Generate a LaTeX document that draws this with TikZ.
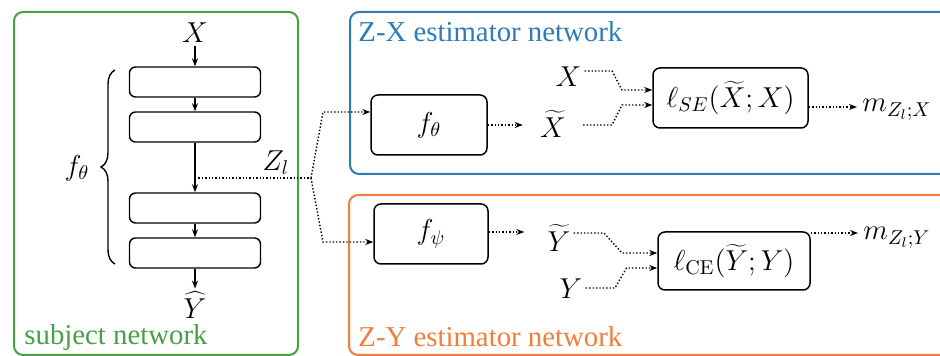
\documentclass[tikz,border=0pt]{standalone}
\usepackage{fontspec}
\newfontfamily\labfont{Liberation Serif}
\usetikzlibrary{arrows.meta,decorations.pathreplacing}
\definecolor{cgreen}{HTML}{46A046}
\definecolor{cblue}{HTML}{2E7BB6}
\definecolor{corange}{HTML}{F27D3A}
\begin{document}
\begin{tikzpicture}[x=0.5pt,y=-0.5pt,
  blk/.style={draw,rounded corners=3pt,line width=0.7pt,minimum width=65.5pt,minimum height=15pt,inner sep=0pt},
  fbox/.style={draw,rounded corners=3.5pt,line width=0.75pt,inner sep=0pt,font=\Large},
  lab/.style={font=\Large,inner sep=1.5pt},
  grp/.style={draw,rounded corners=4.5pt,line width=1pt},
  ttl/.style={font=\labfont\fontsize{14.4}{17}\selectfont,anchor=base west,inner sep=0pt},
  sarr/.style={-{Stealth[length=4pt,width=3pt]},line width=0.6pt},
  darr/.style={-{Stealth[length=4pt,width=3pt]},line width=0.7pt,densely dotted},
  dln/.style={line width=0.7pt,densely dotted}]
\useasboundingbox (0,0) rectangle (940,356);
% group frames
\draw[grp,cgreen] (14,12) rectangle (298,355);
\draw[grp,cblue] (350,12) rectangle (960,174);
\draw[grp,corange] (349,195) rectangle (960,355);
\node[ttl,text=cgreen] (tsub) at (24,345) {subject network};
\node[ttl,text=cblue] (tzx) at (358,42) {Z-X estimator network};
\node[ttl,text=corange] (tzy) at (358,347) {Z-Y estimator network};
% subject network
\node[blk] (b1) at (195,82) {};
\node[blk] (b2) at (195,127) {};
\node[blk] (b3) at (195,208) {};
\node[blk] (b4) at (195,253) {};
\node[lab] (xin) at (195,33) {$X$};
\node[lab] (yhat) at (195,305) {$\widehat{Y}$};
\draw[sarr] (xin) -- (b1);
\draw[sarr] (b1) -- (b2);
\draw[sarr] (b2) -- (b3);
\draw[sarr] (b3) -- (b4);
\draw[sarr] (b4) -- (yhat);
\draw[decorate,decoration={brace,amplitude=7pt},line width=0.7pt] (115,264) -- (115,70);
\node[lab] (fl) at (77,168) {$f_\theta$};
\node[lab] (zl) at (276,163) {$Z_l$};
\coordinate (zs) at (195,178);
\coordinate (sp) at (311,178);
\draw[dln] (zs) -- (sp);
% Z-X estimator
\node[fbox,minimum width=58pt,minimum height=30pt] (fth) at (429,125) {$f_\theta$};
\node[lab] (xt) at (553,124) {$\widetilde{X}$};
\node[lab] (xa) at (568.5,77) {$X$};
\node[fbox,minimum width=77.5pt,minimum height=30pt] (lse) at (730.5,98) {$\ell_{SE}(\widetilde{X};X)$};
\node[lab,anchor=base west] (mx) at (859,112) {$m_{Z_l;X}$};
\coordinate (p1) at (323,112);
\draw[darr] (sp) -- (p1) -- (p1 -| fth.west);
\draw[darr,shorten >=7pt] (fth.east) -- (fth.east -| xt.west);
\coordinate (q1) at (612,125);
\coordinate (q2) at (622,105);
\draw[darr,shorten <=7pt] (xt.east |- q1) -- (q1) -- (q2) -- (q2 -| lse.west);
\coordinate (r1) at (612,71);
\coordinate (r2) at (622,90);
\draw[darr] (xa.east |- r1) -- (r1) -- (r2) -- (r2 -| lse.west);
\coordinate (o1) at (810,107);
\draw[darr,shorten >=1pt] (lse.east |- o1) -- (mx.west |- o1);
% Z-Y estimator
\node[fbox,minimum width=57pt,minimum height=30pt] (fps) at (431,234) {$f_\psi$};
\node[lab] (yt) at (559,238) {$\widetilde{Y}$};
\node[lab] (ya) at (571,289) {$Y$};
\node[fbox,minimum width=76pt,minimum height=29pt] (lce) at (734,261) {$\ell_{\mathrm{CE}}(\widetilde{Y};Y)$};
\node[lab,anchor=base west] (my) at (860,240) {$m_{Z_l;Y}$};
\coordinate (p2) at (323,242);
\draw[darr] (sp) -- (p2) -- (p2 -| fps.west);
\coordinate (t0) at (0,232);
\draw[darr,shorten >=10pt] (fps.east |- t0) -- (yt.west |- t0);
\coordinate (s1) at (604,233);
\coordinate (s2) at (622,253);
\draw[darr] (yt.east |- s1) -- (s1) -- (s2) -- (s2 -| lce.west);
\coordinate (v1) at (615,288);
\coordinate (v2) at (626.5,268);
\draw[darr] (ya.east |- v1) -- (v1) -- (v2) -- (v2 -| lce.west);
\coordinate (o2) at (812,233);
\draw[darr,shorten >=1pt] (lce.east |- o2) -- (my.west |- o2);
\end{tikzpicture}
\end{document}
